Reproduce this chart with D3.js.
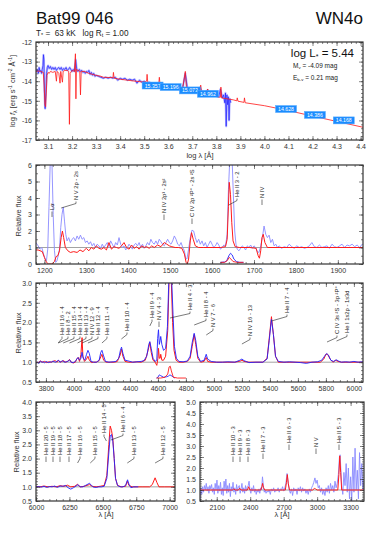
<!DOCTYPE html>
<html>
<head>
<meta charset="utf-8">
<script src="https://cdnjs.cloudflare.com/ajax/libs/d3/7.8.5/d3.min.js"></script>
<style>
body { margin: 0; background: #fff; }
svg { display: block; font-family: "Liberation Sans", Arial, sans-serif; }
.tick text { font-size: 7px; fill: #333; }
.lbl { font-family: "Liberation Sans Narrow", "Liberation Sans", Arial, sans-serif; font-size: 5.8px; fill: #1a1a1a; }
</style>
</head>
<body>
<svg id="chart" width="382" height="541"></svg>
<script>
// ---- SED panel (log lambda vs log f) ----
var sedModel = [[3.050,-13.5],[3.060,-13.48],[3.070,-13.5],[3.080,-13.55],[3.084,-14.2],[3.087,-15.2],[3.090,-15.3],[3.093,-14.5],[3.096,-13.7],[3.100,-13.55],[3.105,-13.6],[3.110,-13.5],[3.120,-13.55],[3.130,-13.5],[3.135,-14.0],[3.138,-13.5],[3.145,-13.6],[3.150,-14.1],[3.153,-13.5],[3.160,-14.05],[3.163,-13.5],[3.170,-13.45],[3.180,-13.45],[3.186,-13.5],[3.189,-16.2],[3.192,-13.6],[3.200,-13.45],[3.210,-13.5],[3.214,-12.6],[3.216,-14.9],[3.218,-13.4],[3.225,-13.45],[3.232,-13.5],[3.235,-14.7],[3.238,-13.5],[3.250,-13.5],[3.270,-13.6],[3.300,-13.7],[3.320,-13.75],[3.330,-13.8],[3.370,-13.82],[3.372,-13.55],[3.375,-13.85],[3.400,-13.9],[3.450,-13.98],[3.500,-14.05],[3.510,-14.0],[3.512,-13.65],[3.515,-14.1],[3.560,-14.18],[3.563,-13.8],[3.566,-14.2],[3.610,-14.3],[3.620,-14.3],[3.657,-14.4],[3.660,-14.35],[3.671,-13.5],[3.676,-14.4],[3.700,-14.5],[3.733,-14.55],[3.735,-14.2],[3.738,-14.6],[3.760,-14.65],[3.764,-14.4],[3.768,-14.7],[3.800,-14.78],[3.817,-14.82],[3.819,-14.3],[3.822,-14.85],[3.870,-14.95],[3.885,-15.0],[3.887,-14.85],[3.890,-15.02],[3.915,-15.08],[3.917,-14.85],[3.920,-15.1],[4.000,-15.25],[4.100,-15.5],[4.200,-15.78],[4.300,-16.05],[4.410,-16.35]];

var sedObs = [[3.050,-13.55],[3.055,-13.4],[3.060,-13.6],[3.063,-13.3],[3.066,-13.5],[3.070,-13.45],[3.073,-13.6],[3.076,-13.4],[3.079,-13.2],[3.081,-12.65],[3.083,-12.9],[3.085,-14.5],[3.088,-15.4],[3.091,-14.6],[3.094,-13.6],[3.097,-13.3],[3.100,-13.2],[3.105,-13.35],[3.110,-13.25],[3.115,-13.4],[3.120,-13.3],[3.125,-13.4],[3.130,-13.3],[3.135,-13.45],[3.140,-13.35],[3.145,-13.3],[3.150,-13.4],[3.155,-13.3],[3.160,-13.45],[3.165,-13.35],[3.170,-13.4],[3.175,-13.3],[3.180,-13.45],[3.185,-13.4],[3.190,-13.3],[3.195,-13.4],[3.200,-13.5],[3.205,-13.4],[3.210,-13.5],[3.215,-12.9],[3.220,-13.45],[3.225,-13.5],[3.230,-13.4],[3.235,-13.5],[3.240,-13.45],[3.245,-13.55],[3.250,-13.5],[3.255,-13.6],[3.260,-13.5],[3.265,-13.55],[3.270,-13.45],[3.275,-13.65],[3.280,-13.55],[3.285,-13.7],[3.290,-13.6],[3.295,-13.75],[3.300,-13.7],[3.310,-13.75],[3.320,-13.8],[3.330,-13.85],[3.340,-13.8],[3.350,-13.85],[3.360,-13.8],[3.370,-13.85],[3.380,-13.8],[3.390,-13.95],[3.400,-13.85],[3.410,-13.9],[3.420,-13.85],[3.430,-13.95],[3.440,-13.9],[3.450,-13.95],[3.460,-13.9],[3.470,-14.1],[3.480,-13.95],[3.490,-14.05],[3.500,-14.0],[3.510,-14.15],[3.520,-14.05],[3.530,-14.1],[3.540,-14.15],[3.550,-14.1],[3.560,-14.2],[3.570,-14.15],[3.580,-14.2],[3.590,-14.25],[3.600,-14.2],[3.610,-14.3],[3.620,-14.25],[3.630,-14.35],[3.640,-14.3],[3.650,-14.4],[3.660,-14.35],[3.671,-13.6],[3.680,-14.4],[3.690,-14.45],[3.700,-14.5],[3.710,-14.45],[3.720,-14.55],[3.733,-14.3],[3.740,-14.6],[3.750,-14.6],[3.764,-14.45],[3.770,-14.65],[3.780,-14.7],[3.790,-14.7],[3.800,-14.75],[3.810,-14.8],[3.817,-14.4],[3.825,-14.85],[3.830,-14.7],[3.835,-15.1],[3.838,-14.6],[3.841,-16.3],[3.844,-14.7],[3.847,-15.2],[3.850,-14.8],[3.853,-16.0],[3.856,-14.9],[3.860,-15.1]];

// photometry: log lambda, log f, magnitude
var photLogLam = [3.535, 3.610, 3.690, 3.765, 4.090, 4.210, 4.330];
var photLogF   = [-14.22, -14.30, -14.47, -14.64, -15.42, -15.72, -16.00];
var photMag    = ["15.357", "15.196", "15.073", "14.962", "14.628", "14.386", "14.168"];

// ---- UV panel ----
var uvModel = [[1175,0.85],[1185,0.85],[1195,0.75],[1200,0.4],[1205,0.1],[1210,0.0],[1218,0.0],[1224,0.15],[1228,0.45],[1232,0.5],[1236,0.8],[1240,1.6],[1243,2.0],[1246,1.6],[1250,1.0],[1256,0.8],[1262,0.7],[1270,0.75],[1278,0.7],[1285,0.85],[1292,0.75],[1300,0.95],[1306,0.8],[1312,1.0],[1318,0.9],[1324,1.1],[1330,0.95],[1336,0.9],[1342,1.0],[1348,0.85],[1354,1.3],[1360,0.9],[1366,1.05],[1372,1.0],[1378,0.95],[1384,1.1],[1390,1.3],[1396,1.0],[1402,0.9],[1408,1.15],[1414,0.95],[1420,1.05],[1426,0.9],[1432,1.1],[1438,1.0],[1444,1.05],[1450,0.95],[1456,1.1],[1462,1.0],[1470,1.15],[1478,1.05],[1486,1.3],[1492,1.2],[1498,1.1],[1504,1.05],[1512,1.0],[1520,1.0],[1528,0.95],[1534,0.6],[1538,0.1],[1541,0.0],[1544,0.3],[1548,1.4],[1551,1.9],[1555,1.5],[1560,1.1],[1568,1.0],[1580,1.0],[1600,1.0],[1620,1.0],[1632,1.05],[1636,1.5],[1639,3.5],[1641,4.95],[1644,4.2],[1647,2.5],[1650,1.4],[1655,1.05],[1665,1.0],[1690,1.0],[1705,0.95],[1710,0.5],[1713,0.35],[1716,0.8],[1719,1.6],[1722,1.8],[1726,1.3],[1732,1.0],[1760,1.0],[1800,1.0],[1850,1.0],[1900,1.0],[1965,1.0]];

var uvObs = [[1175,1.2],[1180,1.3],[1185,1.1],[1190,0.9],[1194,1.0],[1198,0.6],[1202,0.3],[1205,0.2],[1208,0.9],[1211,3.5],[1214,6.2],[1218,6.2],[1221,3.0],[1224,0.8],[1227,0.1],[1230,0.2],[1233,0.5],[1236,0.9],[1239,2.2],[1242,3.0],[1245,3.45],[1248,2.6],[1251,1.8],[1254,1.4],[1258,1.6],[1262,1.3],[1266,1.5],[1270,1.6],[1274,1.4],[1278,1.7],[1282,1.5],[1286,1.75],[1290,1.5],[1294,1.6],[1298,1.3],[1302,1.4],[1306,1.2],[1310,1.35],[1314,1.1],[1318,1.25],[1322,1.0],[1326,1.2],[1330,1.1],[1334,0.95],[1338,1.2],[1342,1.0],[1346,1.15],[1350,1.3],[1354,1.05],[1358,1.4],[1362,1.2],[1366,1.0],[1370,1.3],[1374,1.15],[1378,1.6],[1382,1.2],[1386,1.0],[1390,1.1],[1394,0.85],[1398,1.0],[1402,1.2],[1406,1.05],[1410,0.9],[1414,1.15],[1418,1.25],[1422,1.1],[1426,1.3],[1430,1.0],[1434,1.2],[1438,0.95],[1442,1.1],[1446,1.3],[1450,1.15],[1454,1.5],[1458,1.3],[1462,1.2],[1466,1.4],[1470,1.2],[1474,1.5],[1478,1.35],[1482,1.2],[1486,1.1],[1490,1.3],[1494,1.5],[1498,1.3],[1502,1.2],[1506,1.4],[1510,1.7],[1514,1.5],[1518,1.2],[1522,1.1],[1526,1.3],[1530,1.0],[1534,0.8],[1537,0.35],[1540,0.3],[1544,0.9],[1548,1.6],[1552,2.05],[1556,2.0],[1560,1.6],[1564,1.3],[1568,1.5],[1572,1.2],[1576,1.4],[1580,1.1],[1584,1.3],[1588,1.0],[1592,1.2],[1596,1.4],[1600,1.2],[1604,1.0],[1608,1.1],[1612,1.3],[1616,1.15],[1620,0.9],[1624,1.0],[1628,1.15],[1632,1.1],[1636,1.8],[1639,4.5],[1642,6.2],[1648,6.2],[1651,4.0],[1654,2.0],[1657,1.2],[1660,0.9],[1664,0.8],[1668,0.95],[1672,1.1],[1676,1.0],[1680,0.85],[1684,1.1],[1688,1.0],[1692,1.15],[1696,0.95],[1700,1.1],[1704,1.0],[1708,0.75],[1712,0.7],[1716,1.1],[1720,1.6],[1724,2.3],[1728,1.8],[1732,1.6],[1736,1.75],[1740,1.3],[1744,1.5],[1748,1.1],[1752,1.2],[1756,1.0],[1760,1.1],[1766,0.95],[1772,1.05],[1778,1.0],[1784,1.2],[1790,1.05],[1796,0.95],[1802,1.1],[1808,1.0],[1814,1.05],[1820,0.95],[1826,1.0],[1832,1.1],[1838,1.3],[1844,1.05],[1850,1.0],[1856,1.15],[1862,1.0],[1868,1.05],[1874,1.1],[1880,0.95],[1886,1.2],[1892,1.05],[1898,1.0],[1904,1.1],[1910,1.2],[1916,1.0],[1922,1.15],[1928,1.1],[1934,1.2],[1940,1.05],[1946,1.15],[1952,1.0],[1958,1.2],[1965,1.1]];

var uvInsetObs = [[1620,0.1],[1630,0.12],[1635,0.2],[1640,0.5],[1644,0.65],[1648,0.55],[1652,0.3],[1658,0.15],[1665,0.1],[1675,0.1]];
var uvInsetModel = [[1620,0.1],[1630,0.1],[1636,0.2],[1641,0.4],[1645,0.3],[1650,0.15],[1660,0.1],[1675,0.1]];

var uvLines = [[1216,"Lα"],[1240,"N V 2p - 2s"],[1486,"N IV 2p¹ - 2s²"],[1549,"C IV 2p ²P° - 2s ²S"],[1640,"He II 3 - 2"],[1718,"N IV"]];

// ---- optical blue panel ----
var optModel = [[3730,1.0],[3745,0.99],[3760,1.03],[3775,1.0],[3790,1.02],[3805,0.99],[3820,1.01],[3835,1.0],[3850,1.02],[3865,1.04],[3880,1.0],[3890,1.05],[3900,1.0],[3915,1.02],[3925,1.04],[3940,1.0],[3955,1.02],[3968,1.07],[3980,1.0],[3995,0.98],[4010,1.0],[4020,1.08],[4030,1.12],[4040,1.02],[4050,1.2],[4058,1.62],[4064,1.15],[4075,1.02],[4090,1.08],[4100,1.15],[4110,1.05],[4125,0.99],[4140,1.0],[4160,1.0],[4180,1.04],[4200,1.2],[4212,1.05],[4230,1.0],[4260,1.0],[4290,1.0],[4310,1.02],[4330,1.18],[4340,1.33],[4350,1.15],[4365,1.02],[4390,1.0],[4420,1.0],[4450,1.01],[4480,1.0],[4510,1.05],[4530,1.3],[4542,1.5],[4552,1.25],[4565,1.05],[4580,1.0],[4592,0.92],[4600,1.1],[4604,1.35],[4610,1.1],[4616,1.1],[4620,1.2],[4628,1.05],[4640,1.05],[4655,1.15],[4670,1.8],[4680,3.1],[4686,3.1],[4695,3.1],[4705,2.0],[4715,1.3],[4730,1.05],[4750,1.0],[4780,1.0],[4810,1.02],[4830,1.1],[4845,1.4],[4859,1.7],[4870,1.45],[4885,1.1],[4905,1.0],[4930,1.02],[4945,1.12],[4955,1.02],[4980,1.0],[5020,1.0],[5060,1.0],[5100,1.0],[5150,1.0],[5190,1.03],[5200,1.05],[5215,1.02],[5250,1.0],[5300,1.0],[5350,1.0],[5380,1.1],[5395,1.6],[5411,2.15],[5425,1.7],[5440,1.15],[5460,1.0],[5520,1.0],[5600,1.0],[5680,1.0],[5760,1.0],[5785,1.08],[5800,1.2],[5812,1.2],[5830,1.08],[5850,1.0],[5870,1.05],[5885,1.02],[5910,1.0],[5960,1.0],[6065,1.0]];

var optObs = [[3730,0.98],[3740,1.0],[3750,0.97],[3760,1.03],[3770,1.0],[3780,1.01],[3790,0.98],[3800,1.02],[3810,1.0],[3820,0.99],[3830,1.01],[3840,1.0],[3850,1.03],[3860,1.01],[3870,1.0],[3880,1.03],[3890,1.05],[3900,1.0],[3910,1.02],[3920,1.04],[3930,1.0],[3945,1.01],[3960,1.03],[3970,1.06],[3980,1.0],[3995,0.99],[4010,1.02],[4020,1.08],[4030,1.12],[4040,1.05],[4050,1.1],[4058,1.25],[4066,1.1],[4078,1.05],[4090,1.2],[4100,1.3],[4110,1.22],[4122,1.02],[4140,1.0],[4160,1.0],[4180,1.05],[4192,1.25],[4200,1.3],[4210,1.18],[4225,1.02],[4250,1.0],[4280,1.01],[4300,1.02],[4320,1.1],[4332,1.3],[4340,1.38],[4350,1.22],[4365,1.05],[4380,1.04],[4400,1.02],[4420,1.0],[4450,1.01],[4480,1.02],[4500,1.04],[4520,1.15],[4535,1.45],[4542,1.52],[4552,1.35],[4565,1.1],[4580,1.02],[4592,1.05],[4598,1.6],[4604,1.82],[4610,1.45],[4616,1.55],[4620,1.65],[4628,1.45],[4640,1.3],[4655,1.35],[4668,1.9],[4678,3.1],[4686,3.1],[4698,3.1],[4708,2.2],[4718,1.4],[4732,1.1],[4750,1.02],[4780,1.01],[4810,1.03],[4830,1.15],[4845,1.5],[4859,1.73],[4870,1.55],[4885,1.15],[4905,1.02],[4930,1.05],[4945,1.2],[4955,1.08],[4980,1.02],[5020,1.0],[5060,1.0],[5100,1.01],[5150,1.0],[5185,1.05],[5200,1.08],[5215,1.04],[5250,0.99],[5300,1.0],[5350,1.0],[5380,1.08],[5395,1.55],[5411,2.08],[5425,1.7],[5440,1.15],[5460,1.02],[5500,1.0],[5540,1.01],[5580,1.0],[5620,0.99],[5660,0.97],[5700,1.0],[5740,1.01],[5770,1.05],[5790,1.15],[5805,1.22],[5818,1.18],[5835,1.05],[5855,1.02],[5875,1.06],[5890,1.03],[5910,1.0],[5940,1.01],[5970,1.0],[6000,1.02],[6030,1.0],[6065,1.01]];

var optInsetObs = [[4590,0.6],[4600,0.62],[4610,0.68],[4620,0.66],[4640,0.62],[4660,0.63],[4675,0.65],[4686,0.68],[4700,0.65],[4720,0.6]];
var optInsetModel = [[4590,0.6],[4620,0.6],[4650,0.62],[4670,0.7],[4680,0.88],[4688,0.9],[4696,0.78],[4710,0.62],[4740,0.6],[4800,0.6]];

var optLines = [[3887,"He II 16 - 4"],[3889,"He I 8 - 2"],[3923,"He II 15 - 4"],[3968,"He II 14 - 4"],[4026,"He II 13 - 4"],[4058,"N IV 12 - 9"],[4100,"He II 12 - 4"],[4200,"He II 11 - 4"],[4339,"He II 10 - 4"],[4542,"He II 9 - 4"],[4604,"N V 4 - 3"],[4686,"He II 4 - 3"],[4859,"He II 8 - 4"],[4945,"N V 7 - 6"],[5200,"N IV 16 - 13"],[5411,"He II 7 - 4"],[5808,"C IV 3s ²S - 3p ²P°"],[5876,"He I 1s2p - 1s3d"]];

// ---- red optical panel ----
var redModel = [[6000,1.02],[6030,1.0],[6060,1.03],[6090,1.0],[6120,1.02],[6150,1.0],[6180,1.04],[6210,1.02],[6235,1.06],[6260,1.0],[6290,1.02],[6310,1.09],[6330,1.0],[6360,1.02],[6400,1.08],[6420,1.02],[6450,1.0],[6480,1.02],[6510,1.05],[6530,1.4],[6545,2.5],[6555,3.15],[6565,3.0],[6575,2.7],[6585,2.0],[6595,1.3],[6610,1.05],[6640,1.0],[6670,1.02],[6683,1.2],[6695,1.05],[6720,1.0],[6760,1.0],[6800,1.0],[6850,1.0],[6870,1.08],[6891,1.32],[6905,1.15],[6920,1.0],[6960,1.0],[7060,1.0]];

var redObs = [[6000,1.0],[6020,1.01],[6040,0.99],[6060,1.02],[6080,0.98],[6100,1.01],[6120,1.0],[6140,1.03],[6160,0.98],[6180,1.03],[6200,1.02],[6220,1.05],[6240,0.97],[6260,0.92],[6280,0.97],[6300,1.03],[6315,1.08],[6330,1.0],[6350,1.0],[6370,1.05],[6390,1.1],[6400,1.13],[6415,1.05],[6430,0.99],[6450,0.98],[6470,1.0],[6490,1.0],[6510,1.02],[6530,1.3],[6545,2.2],[6555,2.8],[6565,2.85],[6575,2.6],[6585,2.0],[6595,1.3],[6610,1.05],[6630,1.0],[6650,1.0],[6670,1.05],[6685,1.25],[6695,1.1],[6710,0.97],[6730,1.0],[6750,1.0],[6765,1.0]];

var redLines = [[6074,"He II 20 - 5"],[6119,"He II 19 - 5"],[6172,"He II 18 - 5"],[6234,"He II 17 - 5"],[6311,"He II 16 - 5"],[6406,"He II 15 - 5"],[6527,"He II 14 - 5"],[6560,"He II 6 - 4"],[6683,"He II 13 - 5"],[6891,"He II 12 - 5"]];

// ---- near UV panel ----
var nuvModel = [[1950,1.0],[2240,1.0],[2253,1.05],[2265,1.0],[2295,1.0],[2306,1.08],[2318,1.0],[2375,1.0],[2386,1.15],[2398,1.0],[2495,1.0],[2505,1.15],[2511,1.3],[2518,1.12],[2530,1.0],[2715,1.0],[2725,1.35],[2733,1.7],[2741,1.3],[2752,1.0],[2960,1.0],[2975,1.07],[2985,1.05],[3000,1.0],[3185,1.0],[3195,1.7],[3203,2.55],[3211,1.8],[3220,1.0],[3420,1.0]];

var nuvObs = [[1950,0.55],[1958,1.1],[1966,0.8],[1974,1.15],[1982,0.9],[1990,1.2],[1998,1.0],[2006,1.3],[2014,0.95],[2022,1.15],[2030,0.85],[2038,1.2],[2046,1.05],[2054,1.25],[2062,0.9],[2070,1.1],[2078,0.8],[2086,1.3],[2094,1.0],[2102,1.45],[2110,0.85],[2118,1.2],[2126,0.95],[2134,1.35],[2142,0.8],[2150,1.1],[2158,0.75],[2166,1.4],[2174,1.0],[2182,1.5],[2190,0.85],[2198,1.2],[2206,0.9],[2214,1.3],[2222,0.7],[2230,1.15],[2238,0.95],[2246,1.35],[2254,0.9],[2262,1.1],[2270,0.8],[2278,1.25],[2286,0.95],[2294,1.15],[2302,1.2],[2310,0.85],[2318,1.05],[2326,1.3],[2334,0.9],[2342,1.1],[2350,0.85],[2358,1.2],[2366,0.95],[2374,1.15],[2382,1.2],[2390,1.4],[2398,1.0],[2406,0.85],[2414,1.1],[2422,0.95],[2430,1.2],[2438,0.9],[2446,1.05],[2454,0.8],[2462,1.0],[2470,0.9],[2478,1.05],[2486,0.85],[2494,1.1],[2502,1.0],[2510,1.6],[2518,1.2],[2526,0.9],[2534,1.0],[2542,0.85],[2550,0.95],[2560,0.9],[2570,1.0],[2580,0.8],[2590,1.05],[2600,0.95],[2610,1.1],[2620,0.9],[2630,1.0],[2640,0.95],[2650,1.1],[2660,0.9],[2670,1.05],[2680,1.0],[2690,1.15],[2700,0.95],[2710,1.1],[2720,1.3],[2730,1.75],[2740,1.35],[2750,1.0],[2760,0.85],[2770,1.05],[2780,0.75],[2790,1.1],[2800,0.95],[2810,1.05],[2820,0.8],[2830,1.1],[2840,0.95],[2850,1.15],[2860,0.9],[2870,1.1],[2880,0.95],[2890,1.05],[2900,0.85],[2910,1.0],[2920,0.8],[2930,1.05],[2940,0.9],[2950,1.1],[2960,1.2],[2970,1.35],[2980,1.55],[2990,1.3],[3000,1.45],[3010,1.1],[3020,1.2],[3030,0.9],[3040,1.1],[3050,0.8],[3060,1.0],[3070,0.75],[3080,1.1],[3090,0.9],[3100,1.2],[3110,0.85],[3120,1.3],[3130,1.0],[3140,1.2],[3150,0.9],[3160,1.4],[3170,1.1],[3180,1.3],[3190,1.7],[3200,2.5],[3206,2.6],[3212,2.0],[3220,1.2],[3230,0.8],[3240,1.8],[3250,1.2],[3260,2.2],[3270,0.9],[3280,2.0],[3290,0.6],[3300,1.6],[3310,0.5],[3320,2.5],[3330,0.9],[3340,2.9],[3350,1.0],[3360,1.9],[3370,0.6],[3380,2.7],[3390,1.2],[3400,2.2],[3410,1.0],[3420,1.5]];

var nuvLines = [[2253,"He II 10 - 3"],[2306,"He II 9 - 3"],[2386,"He II 8 - 3"],[2511,"He II 7 - 3"],[2733,"He II 6 - 3"],[2980,"N V"],[3203,"He II 5 - 3"]];

var svg = d3.select("#chart");
var clipN = 0;
var RED = "#ff1a1a", BLUE = "#2222ff", LBLUE = "#8a8aff";

function panel(o) {
	var x = d3.scaleLinear().domain(o.xd).range([o.l, o.r]);
	var y = d3.scaleLinear().domain(o.yd).range([o.b, o.t]);
	var g = svg.append("g");
	var cid = "clip" + (clipN++);
	g.append("clipPath").attr("id", cid).append("rect")
		.attr("x", o.l).attr("y", o.t).attr("width", o.r - o.l).attr("height", o.b - o.t);
	var plot = g.append("g").attr("clip-path", "url(#" + cid + ")");

	var ax = g.append("g");
	function put(axis, tr) {
		var a = ax.append("g").attr("transform", tr).call(axis);
		a.attr("font-size", null).attr("font-family", null);
		a.select(".domain").remove();
		a.selectAll("line").attr("stroke", "#333").attr("stroke-width", 0.6);
		return a;
	}
	put(d3.axisBottom(x).tickValues(o.xt).tickSize(-4).tickPadding(4).tickFormat(o.xf), "translate(0," + o.b + ")");
	put(d3.axisBottom(x).tickValues(o.xm).tickSize(-2).tickFormat(""), "translate(0," + o.b + ")");
	put(d3.axisTop(x).tickValues(o.xt).tickSize(-4).tickFormat(""), "translate(0," + o.t + ")");
	put(d3.axisTop(x).tickValues(o.xm).tickSize(-2).tickFormat(""), "translate(0," + o.t + ")");
	put(d3.axisLeft(y).tickValues(o.yt).tickSize(-4).tickPadding(4).tickFormat(o.yf), "translate(" + o.l + ",0)");
	put(d3.axisLeft(y).tickValues(o.ym).tickSize(-2).tickFormat(""), "translate(" + o.l + ",0)");
	put(d3.axisRight(y).tickValues(o.yt).tickSize(-4).tickFormat(""), "translate(" + o.r + ",0)");
	put(d3.axisRight(y).tickValues(o.ym).tickSize(-2).tickFormat(""), "translate(" + o.r + ",0)");

	g.append("rect")
		.attr("x", o.l).attr("y", o.t).attr("width", o.r - o.l).attr("height", o.b - o.t)
		.attr("fill", "none").attr("stroke", "#333").attr("stroke-width", 1.2);

	var line = d3.line().x(function(d) { return x(d[0]); }).y(function(d) { return y(d[1]); });
	return { x: x, y: y, g: g, plot: plot, line: line, o: o };
}

function curve(p, data, color, width, op) {
	p.plot.append("path").datum(data).attr("d", p.line)
		.attr("fill", "none").attr("stroke", color)
		.attr("stroke-width", width).attr("stroke-opacity", op == null ? 1 : op)
		.attr("stroke-linejoin", "round");
}

function unity(p) {
	p.plot.append("line")
		.attr("x1", p.o.l).attr("x2", p.o.r)
		.attr("y1", p.y(1)).attr("y2", p.y(1))
		.attr("stroke", "#8c8c8c").attr("stroke-width", 0.8);
}

// line identification: tx = text centre x, yb = text bottom (px)
function ident(p, w, text, tx, yb) {
	var lx = p.x(w);
	var d;
	if (Math.abs(lx - tx) < 2) d = "M" + tx + "," + (yb + 7) + "V" + (yb + 1.5);
	else d = "M" + lx + "," + (yb + 8) + "L" + tx + "," + (yb + 3.5) + "V" + (yb + 1.5);
	p.g.append("path").attr("d", d).attr("fill", "none")
		.attr("stroke", "#222").attr("stroke-width", 0.6);
	p.g.append("text").attr("class", "lbl")
		.attr("transform", "translate(" + (tx + 2) + "," + yb + ") rotate(-90)")
		.text(text);
}

function yTitle(txt, x, y) {
	svg.append("text").attr("transform", "translate(" + x + "," + y + ") rotate(-90)")
		.attr("text-anchor", "middle").attr("font-size", 7.5).attr("fill", "#333")
		.text(txt);
}

var fmt1 = d3.format(".1f");
var fmtI = function(d) { return String(d); };

// ---------- header ----------
svg.append("text").attr("x", 36).attr("y", 24).attr("font-size", 17).attr("fill", "#111").text("Bat99 046");
svg.append("text").attr("x", 363).attr("y", 24).attr("font-size", 17).attr("fill", "#111")
	.attr("text-anchor", "end").text("WN4o");
var sub = svg.append("text").attr("x", 36).attr("y", 35.5).attr("font-size", 8.2).attr("fill", "#222")
	.style("white-space", "pre");
sub.append("tspan").text("T");
sub.append("tspan").attr("font-size", 5.5).attr("dy", 1.2).text("*");
sub.append("tspan").attr("dy", -1.2).text(" =  63 kK   log R");
sub.append("tspan").attr("font-size", 5.5).attr("dy", 1.2).text("t");
sub.append("tspan").attr("dy", -1.2).text(" = 1.00");

// ---------- panel 1: SED ----------
var p1 = panel({
	l: 36, r: 363, t: 42, b: 140,
	xd: [3.05, 4.41], yd: [-17, -12],
	xt: d3.range(3.1, 4.41, 0.1).map(function(v) { return +v.toFixed(1); }),
	xm: d3.range(3.06, 4.41, 0.02).map(function(v) { return +v.toFixed(2); }),
	yt: [-17, -16, -15, -14, -13, -12],
	ym: d3.range(-17, -11.9, 0.2).map(function(v) { return +v.toFixed(1); }),
	xf: fmt1, yf: fmtI
});
curve(p1, sedObs, LBLUE, 2.2, 0.55);
curve(p1, sedObs, BLUE, 0.8, 0.9);
curve(p1, sedModel, RED, 0.9, 0.9);

var phot = p1.g.append("g");
photMag.forEach(function(m, i) {
	var cx = p1.x(photLogLam[i]), cy = p1.y(photLogF[i]);
	phot.append("rect").attr("x", cx - 10.5).attr("y", cy - 3.5).attr("width", 21).attr("height", 7)
		.attr("fill", "#1a8cff").attr("stroke", "#56aaff").attr("stroke-width", 0.5);
	phot.append("text").attr("x", cx).attr("y", cy + 2).attr("text-anchor", "middle")
		.attr("font-size", 5.2).attr("fill", "#fff").text(m);
});

var lum = p1.g.append("text").attr("x", 354).attr("y", 57).attr("text-anchor", "end")
	.attr("font-size", 11.5).attr("fill", "#111");
lum.append("tspan").text("log L");
lum.append("tspan").attr("font-size", 7).attr("dy", 2).text("*");
lum.append("tspan").attr("dy", -2).text(" = 5.44");
var mv = p1.g.append("text").attr("x", 293).attr("y", 68).attr("font-size", 6.5).attr("fill", "#222");
mv.append("tspan").text("M");
mv.append("tspan").attr("font-size", 4.3).attr("dy", 1.2).text("v");
mv.append("tspan").attr("dy", -1.2).text(" = -4.09 mag");
var eb = p1.g.append("text").attr("x", 293).attr("y", 80).attr("font-size", 6.5).attr("fill", "#222");
eb.append("tspan").text("E");
eb.append("tspan").attr("font-size", 4.3).attr("dy", 1.2).text("b-v");
eb.append("tspan").attr("dy", -1.2).text(" = 0.21 mag");

svg.append("text").attr("x", 200).attr("y", 157.5).attr("text-anchor", "middle")
	.attr("font-size", 7.5).attr("fill", "#333").text("log λ [Å]");
var yl = svg.append("text").attr("transform", "translate(15,91) rotate(-90)")
	.attr("text-anchor", "middle").attr("font-size", 7.5).attr("fill", "#333");
yl.append("tspan").text("log ");
yl.append("tspan").attr("font-style", "italic").text("f");
yl.append("tspan").attr("font-size", 5).attr("dy", 1.5).text("λ");
yl.append("tspan").attr("dy", -1.5).text(" [erg s");
yl.append("tspan").attr("font-size", 5).attr("dy", -3).text("-1");
yl.append("tspan").attr("dy", 3).text(" cm");
yl.append("tspan").attr("font-size", 5).attr("dy", -3).text("-2");
yl.append("tspan").attr("dy", 3).text(" Å");
yl.append("tspan").attr("font-size", 5).attr("dy", -3).text("-1");
yl.append("tspan").attr("dy", 3).text("]");

// ---------- panel 2: UV ----------
var p2 = panel({
	l: 36, r: 363, t: 165, b: 264,
	xd: [1180, 1960], yd: [0, 6],
	xt: d3.range(1200, 1901, 100),
	xm: d3.range(1180, 1961, 20),
	yt: [0, 1, 2, 3, 4, 5, 6],
	ym: d3.range(0, 6.01, 0.5),
	xf: fmtI, yf: fmtI
});
unity(p2);
curve(p2, uvObs, LBLUE, 0.9, 1);
curve(p2, uvModel, RED, 1, 1);
curve(p2, uvInsetObs, BLUE, 0.9, 1);
curve(p2, uvInsetModel, RED, 0.9, 1);
var uvLay = [[52, 210], [76, 200], [164, 213], [192, 217], [237, 197], [262, 198]];
uvLines.forEach(function(l, i) { ident(p2, l[0], l[1], uvLay[i][0], uvLay[i][1]); });
yTitle("Relative flux", 21, 216);

// ---------- panel 3: optical ----------
var p3 = panel({
	l: 36, r: 363, t: 283, b: 382,
	xd: [3729, 6065], yd: [0.5, 3.0],
	xt: d3.range(3800, 6001, 200),
	xm: d3.range(3750, 6065, 50),
	yt: [0.5, 1.0, 1.5, 2.0, 2.5, 3.0],
	ym: d3.range(0.5, 3.01, 0.1).map(function(v) { return +v.toFixed(1); }),
	xf: fmtI, yf: fmt1
});
unity(p3);
curve(p3, optModel, RED, 1, 1);
curve(p3, optObs, BLUE, 1, 0.9);
curve(p3, optInsetObs, BLUE, 0.9, 1);
curve(p3, optInsetModel, RED, 0.9, 1);
var optLay = [[62,335],[68,335],[74,335],[80,335],[86,335],[92,335],[98,335],[107,335],[127,331],[152,318],[159,320],[190,310],[206,317],[213,327],[250,336],[287,313],[337,334],[347,333]];
optLines.forEach(function(l, i) { ident(p3, l[0], l[1], optLay[i][0], optLay[i][1]); });
yTitle("Relative flux", 21, 333);

// ---------- panel 4a: red optical ----------
var p4 = panel({
	l: 36, r: 175, t: 402, b: 501,
	xd: [6000, 7040], yd: [0.5, 4.0],
	xt: [6000, 6250, 6500, 6750, 7000],
	xm: d3.range(6000, 7041, 50),
	yt: d3.range(0.5, 4.01, 0.5),
	ym: d3.range(0.5, 4.01, 0.1).map(function(v) { return +v.toFixed(1); }),
	xf: fmtI, yf: fmt1
});
unity(p4);
curve(p4, redModel, RED, 1, 1);
curve(p4, redObs, BLUE, 1, 0.9);
var redLay = [[46,455],[53,455],[60,455],[69,455],[80,455],[95,455],[104,433],[123,432],[134,455],[163,455]];
redLines.forEach(function(l, i) { ident(p4, l[0], l[1], redLay[i][0], redLay[i][1]); });
yTitle("Relative flux", 19, 452);
svg.append("text").attr("x", 106).attr("y", 517).attr("text-anchor", "middle")
	.attr("font-size", 7.5).attr("fill", "#333").text("λ [Å]");

// ---------- panel 4b: near UV ----------
var p5 = panel({
	l: 200, r: 364, t: 402, b: 501,
	xd: [1950, 3420], yd: [0.5, 5.0],
	xt: [2100, 2400, 2700, 3000, 3300],
	xm: d3.range(1950, 3421, 50),
	yt: d3.range(0.5, 5.01, 0.5),
	ym: d3.range(0.5, 5.01, 0.1).map(function(v) { return +v.toFixed(1); }),
	xf: fmtI, yf: fmt1
});
unity(p5);
curve(p5, nuvObs, LBLUE, 0.9, 1);
curve(p5, nuvModel, RED, 1, 1);
var nuvLay = [[233,455],[240,455],[248,455],[263,452],[289,443],[316,447],[339,443]];
nuvLines.forEach(function(l, i) { ident(p5, l[0], l[1], nuvLay[i][0], nuvLay[i][1]); });
svg.append("text").attr("x", 282).attr("y", 517).attr("text-anchor", "middle")
	.attr("font-size", 7.5).attr("fill", "#333").text("λ [Å]");
</script>
</body>
</html>
